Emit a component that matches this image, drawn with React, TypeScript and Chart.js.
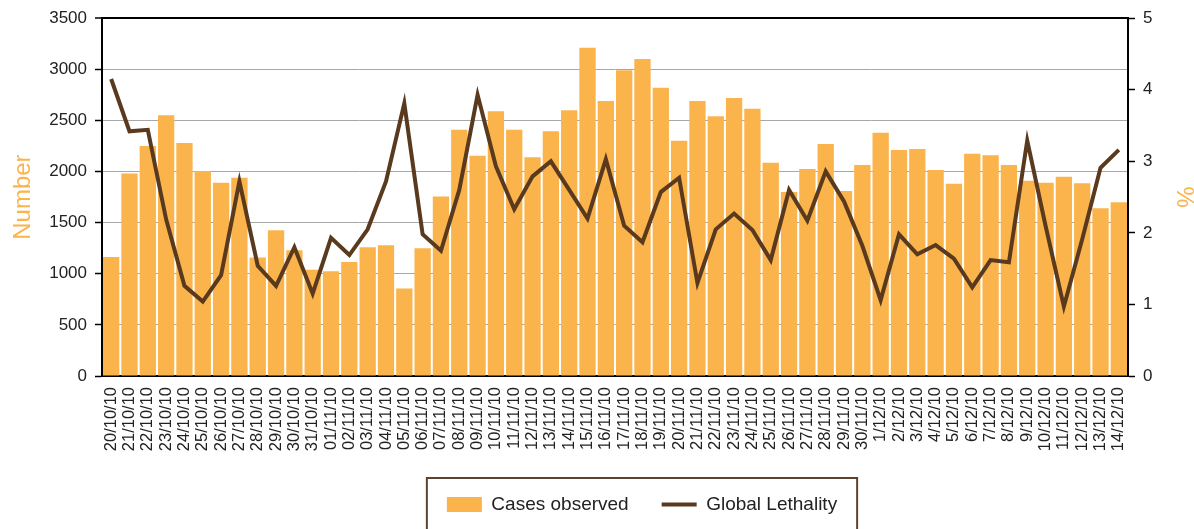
import React, { useEffect, useRef } from "react";
import { Chart, registerables } from "chart.js";

Chart.register(...registerables);

const categories = [
  "20/10/10", "21/10/10", "22/10/10", "23/10/10", "24/10/10", "25/10/10", "26/10/10", "27/10/10",
  "28/10/10", "29/10/10", "30/10/10", "31/10/10", "01/11/10", "02/11/10", "03/11/10", "04/11/10",
  "05/11/10", "06/11/10", "07/11/10", "08/11/10", "09/11/10", "10/11/10", "11/11/10", "12/11/10",
  "13/11/10", "14/11/10", "15/11/10", "16/11/10", "17/11/10", "18/11/10", "19/11/10", "20/11/10",
  "21/11/10", "22/11/10", "23/11/10", "24/11/10", "25/11/10", "26/11/10", "27/11/10", "28/11/10",
  "29/11/10", "30/11/10", "1/12/10", "2/12/10", "3/12/10", "4/12/10", "5/12/10", "6/12/10",
  "7/12/10", "8/12/10", "9/12/10", "10/12/10", "11/12/10", "12/12/10", "13/12/10", "14/12/10",
];

const casesObserved = [
  1165, 1980, 2250, 2550, 2280, 2005, 1890, 1940,
  1160, 1425, 1230, 1040, 1025, 1115, 1260, 1280,
  855, 1250, 1755, 2410, 2155, 2590, 2410, 2140,
  2395, 2600, 3210, 2690, 2990, 3100, 2820, 2300,
  2690, 2540, 2720, 2615, 2085, 1800, 2025, 2270,
  1810, 2065, 2380, 2210, 2220, 2015, 1880, 2175,
  2160, 2065, 1910, 1890, 1950, 1885, 1640, 1700,
];

const globalLethality = [
  4.15, 3.42, 3.44, 2.19, 1.26, 1.04, 1.41, 2.72,
  1.54, 1.26, 1.80, 1.15, 1.93, 1.69, 2.05, 2.72,
  3.81, 1.98, 1.75, 2.60, 3.93, 2.93, 2.33, 2.79,
  3.00, 2.60, 2.20, 3.03, 2.10, 1.87, 2.57, 2.77,
  1.30, 2.05, 2.27, 2.04, 1.62, 2.60, 2.17, 2.86,
  2.44, 1.82, 1.06, 1.98, 1.70, 1.83, 1.64, 1.24,
  1.62, 1.59, 3.29, 2.10, 0.97, 1.91, 2.91, 3.16,
];

const leftTicks = [0, 500, 1000, 1500, 2000, 2500, 3000, 3500];
const rightTicks = [0, 1, 2, 3, 4, 5];

const ORANGE = "#FBB44C";
const BROWN = "#5A3A1E";
const FONT = "'Liberation Sans', Arial, Helvetica, sans-serif";

const legendShift = {
  id: "legendShift",
  afterLayout(chart: any) {
    const lg = chart.legend;
    if (!lg) return;
    lg.left = lg.left + 90;
  },
};

const legendFrame = {
  id: "legendFrame",
  afterDraw(chart: any) {
    const boxes = chart.legend && chart.legend.legendHitBoxes;
    if (!boxes || !boxes.length) return;
    const first = boxes[0];
    const last = boxes[boxes.length - 1];
    const left = first.left - 20;
    const right = last.left + last.width + 20;
    const top = first.top - 17;
    const bottom = first.top + 80;
    const ctx = chart.ctx;
    ctx.save();
    ctx.strokeStyle = "#5C4330";
    ctx.lineWidth = 2;
    ctx.strokeRect(left, top, right - left, bottom - top);
    ctx.restore();
  },
};

export default function App() {
  const ref = useRef<HTMLCanvasElement | null>(null);

  useEffect(() => {
    if (!ref.current) return;
    const chart = new Chart(ref.current, {
      data: {
        labels: categories,
        datasets: [
          {
            type: "line",
            label: "Global Lethality",
            data: globalLethality,
            yAxisID: "y1",
            borderColor: BROWN,
            backgroundColor: BROWN,
            borderWidth: 4,
            pointRadius: 0,
            tension: 0,
            order: 0,
          } as any,
          {
            type: "bar",
            label: "Cases observed",
            data: casesObserved,
            yAxisID: "y",
            backgroundColor: ORANGE,
            borderWidth: 0,
            barPercentage: 0.89,
            categoryPercentage: 1,
            order: 1,
          } as any,
        ],
      },
      options: {
        animation: false,
        responsive: false,
        maintainAspectRatio: false,
        layout: { padding: { top: 16, left: 0, right: 0, bottom: 5 } },
        plugins: {
          tooltip: { enabled: false },
          legend: {
            position: "bottom",
            labels: {
              usePointStyle: true,
              pointStyleWidth: 35,
              boxHeight: 15,
              padding: 33,
              color: "#222",
              font: { family: FONT, size: 19 },
              generateLabels(chart: any) {
                const order = [1, 0];
                return order.map((i) => {
                  const ds = chart.data.datasets[i];
                  const isLine = ds.type === "line";
                  return {
                    text: ds.label,
                    datasetIndex: i,
                    fillStyle: isLine ? BROWN : ORANGE,
                    strokeStyle: isLine ? BROWN : ORANGE,
                    lineWidth: isLine ? 4 : 0,
                    pointStyle: isLine ? "line" : "rect",
                    hidden: false,
                    fontColor: "#222",
                  };
                });
              },
            },
          },
        },
        scales: {
          x: {
            type: "category",
            offset: true,
            grid: { display: false, drawTicks: false },
            border: { display: true, color: "#000", width: 2 },
            ticks: {
              autoSkip: false,
              maxRotation: 90,
              minRotation: 90,
              padding: 11,
              color: "#222",
              font: { family: FONT, size: 16.5 },
            },
            afterFit(scale: any) {
              scale.height = 86;
            },
          },
          y: {
            type: "linear",
            position: "left",
            min: 0,
            max: 3500,
            afterBuildTicks(scale: any) {
              scale.ticks = leftTicks.map((v) => ({ value: v }));
            },
            grid: {
              color: (c: any) => (c.tick && c.tick.value === 3500 ? "#000" : "#A8A8A8"),
              lineWidth: (c: any) => (c.tick && c.tick.value === 3500 ? 2 : 1),
              tickColor: "#000",
              tickLength: 7,
              tickWidth: 1.5,
            },
            border: { display: true, color: "#000", width: 2 },
            ticks: {
              padding: 8,
              color: "#222",
              font: { family: FONT, size: 17 },
              callback: (v: any) => String(v),
            },
            title: {
              display: true,
              text: "Number",
              color: ORANGE,
              font: { family: FONT, size: 24 },
              padding: { top: 9, bottom: 0 },
            },
            afterFit(scale: any) {
              scale.width = 102;
            },
          },
          y1: {
            type: "linear",
            position: "right",
            min: 0,
            max: 5,
            afterBuildTicks(scale: any) {
              scale.ticks = rightTicks.map((v) => ({ value: v }));
            },
            grid: {
              drawOnChartArea: false,
              tickColor: "#000",
              tickLength: 7,
              tickWidth: 1.5,
            },
            border: { display: true, color: "#000", width: 2 },
            ticks: {
              padding: 8,
              color: "#222",
              font: { family: FONT, size: 17 },
              callback: (v: any) => String(v),
            },
            title: {
              display: true,
              text: "%",
              color: ORANGE,
              font: { family: FONT, size: 24, lineHeight: 0.9 },
              padding: { top: 0, bottom: 0 },
            },
            afterFit(scale: any) {
              scale.width = 66;
            },
          },
        },
      },
      plugins: [legendShift, legendFrame],
    } as any);
    return () => chart.destroy();
  }, []);

  return (
    <div style={{ position: "fixed", left: 0, top: 0, width: 1194, height: 529, overflow: "hidden", background: "#fff" }}>
      <canvas ref={ref} width={1194} height={529} style={{ display: "block", width: 1194, height: 529 }} />
    </div>
  );
}
